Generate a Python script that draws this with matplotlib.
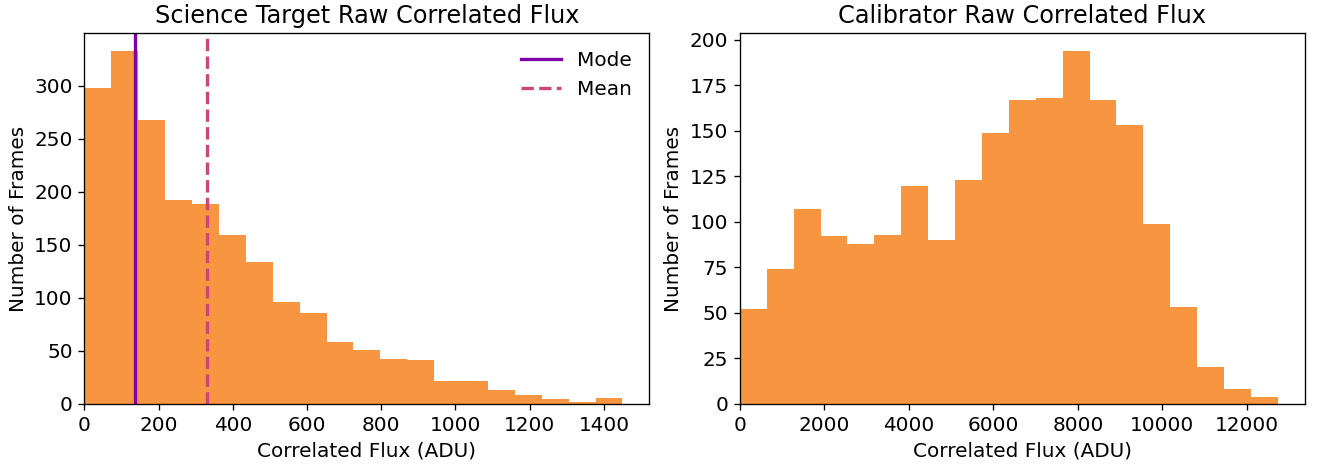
import numpy as np
import matplotlib
matplotlib.use("Agg")
import matplotlib.pyplot as plt

# histogram counts (20 bins each)
sci_edges = np.linspace(0, 1450, 21)
sci_counts = [298, 333, 268, 192, 189, 159, 134, 96, 86, 58,
              51, 42, 41, 22, 22, 13, 8, 5, 2, 6]
sci_mode = 137
sci_mean = 330

cal_edges = np.linspace(0, 12735, 21)
cal_counts = [52, 74, 107, 92, 88, 93, 120, 90, 123, 149,
              167, 168, 194, 167, 153, 99, 53, 20, 8, 4]

bar_color = "#f89540"
mode_color = "#7e03a8"
mean_color = "#cc4778"


def main():
    plt.rcParams["font.size"] = 12
    fig, (ax1, ax2) = plt.subplots(1, 2, figsize=(1318 / 120, 468 / 120), dpi=120)
    fig.subplots_adjust(left=0.064, right=0.990, bottom=0.137, top=0.929, wspace=0.16)

    ax1.hist(sci_edges[:-1], bins=sci_edges, weights=sci_counts, color=bar_color)
    ax1.axvline(sci_mode, color=mode_color, lw=2, label="Mode")
    ax1.axvline(sci_mean, color=mean_color, lw=2, ls="--", label="Mean")
    ax1.set_xlim(left=0)
    ax1.set_title("Science Target Raw Correlated Flux")
    ax1.set_xlabel("Correlated Flux (ADU)")
    ax1.set_ylabel("Number of Frames")
    ax1.legend(frameon=False, loc="upper right")

    ax2.hist(cal_edges[:-1], bins=cal_edges, weights=cal_counts, color=bar_color)
    ax2.set_xlim(left=0)
    ax2.set_title("Calibrator Raw Correlated Flux")
    ax2.set_xlabel("Correlated Flux (ADU)")
    ax2.set_ylabel("Number of Frames")

    fig.savefig("out.png", dpi=120)


if __name__ == "__main__":
    main()
